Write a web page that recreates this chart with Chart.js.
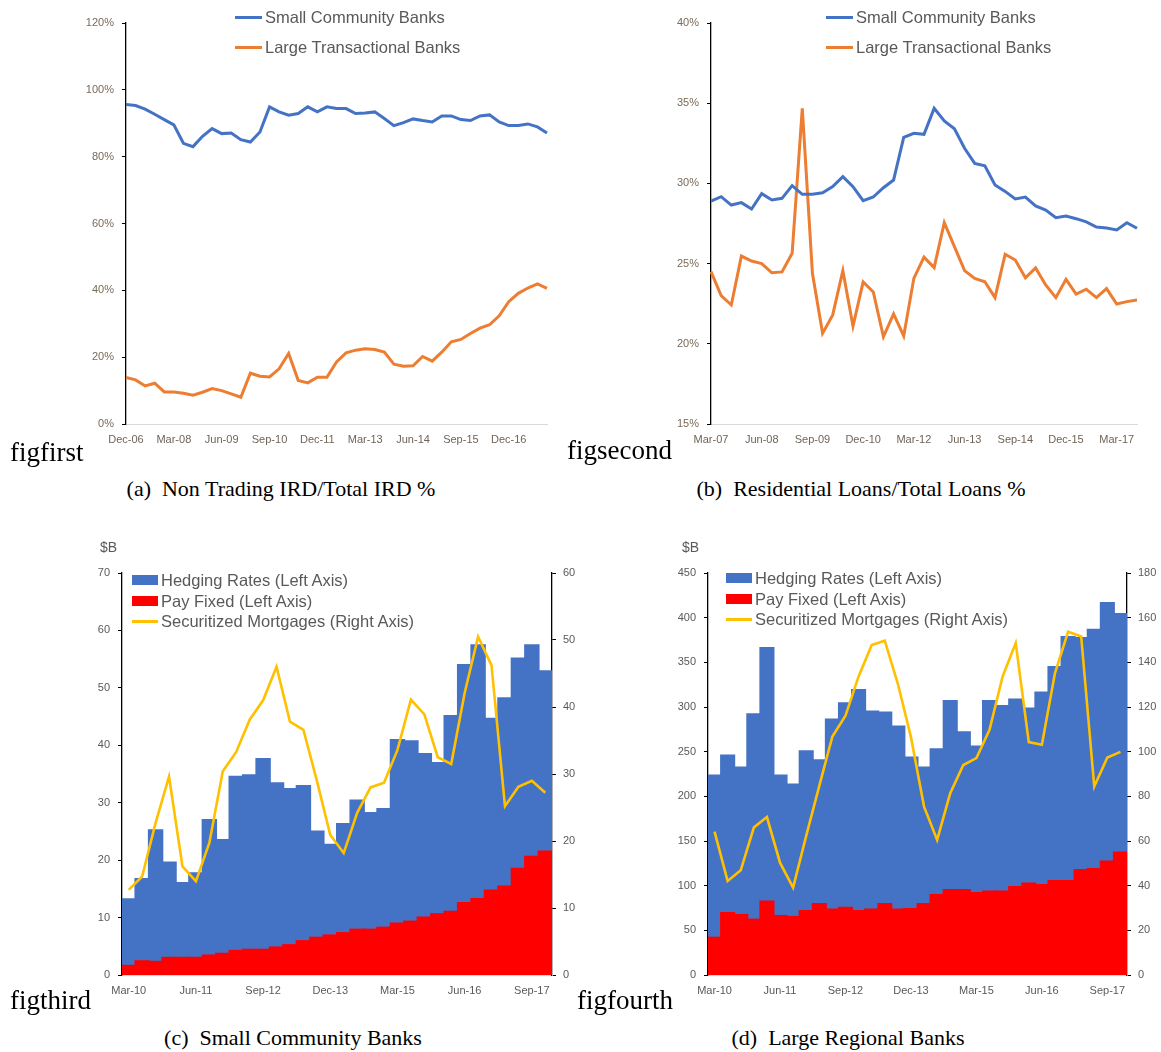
<!DOCTYPE html>
<html>
<head>
<meta charset="utf-8">
<script src="https://cdn.jsdelivr.net/npm/chart.js@4.4.1/dist/chart.umd.min.js"></script>
<style>
    body { margin: 0; background: #fff; width: 1161px; height: 1052px; position: relative; overflow: hidden; }
    .panel { position: absolute; }
    .fig { position: absolute; font-family: 'Liberation Serif', 'Times New Roman', serif; font-size: 27px; line-height: 1; color: #000; white-space: nowrap; }
    .caption { position: absolute; font-family: 'Liberation Serif', 'Times New Roman', serif; font-size: 22px; line-height: 1; color: #000; white-space: nowrap; transform: translateX(-50%); }
    .unit { position: absolute; font-family: 'Liberation Sans', sans-serif; font-size: 14px; line-height: 1; color: #595959; }
    .legend { position: absolute; font-family: 'Liberation Sans', sans-serif; font-size: 16.5px; color: #595959; }
    .legend .item { display: flex; align-items: center; white-space: nowrap; }
    .legend .swatch { display: inline-block; margin-right: 3px; }
</style>
</head>
<body>

<div class="panel" style="left:60px; top:0px;"><canvas id="chartA" width="500" height="460"></canvas></div>
<div class="panel" style="left:640px; top:0px;"><canvas id="chartB" width="520" height="460"></canvas></div>
<div class="panel" style="left:60px; top:530px;"><canvas id="chartC" width="530" height="470"></canvas></div>
<div class="panel" style="left:640px; top:530px;"><canvas id="chartD" width="520" height="470"></canvas></div>

<div class="legend" id="legendA" style="left:235px; top:2px; line-height:30px;"></div>
<div class="legend" id="legendB" style="left:826px; top:2px; line-height:30px;"></div>
<div class="legend" id="legendC" style="left:132px; top:570px; line-height:20.5px;"></div>
<div class="legend" id="legendD" style="left:726px; top:568px; line-height:20.5px;"></div>

<div class="unit" style="left:100px; top:540px;">$B</div>
<div class="unit" style="left:682px; top:540px;">$B</div>

<div class="fig" style="left:10px; top:439px;">figfirst</div>
<div class="fig" style="left:567px; top:437px;">figsecond</div>
<div class="fig" style="left:10px; top:987px;">figthird</div>
<div class="fig" style="left:577px; top:987px;">figfourth</div>

<div class="caption" style="left:281px; top:478px;">(a)&nbsp;&nbsp;Non Trading IRD/Total IRD %</div>
<div class="caption" style="left:861px; top:478px;">(b)&nbsp;&nbsp;Residential Loans/Total Loans %</div>
<div class="caption" style="left:293px; top:1027px;">(c)&nbsp;&nbsp;Small Community Banks</div>
<div class="caption" style="left:848px; top:1027px;">(d)&nbsp;&nbsp;Large Regional Banks</div>

<script>
// Datos
const quartersA = ['Dec-06',
    'Mar-07', 'Jun-07', 'Sep-07', 'Dec-07', 'Mar-08', 'Jun-08', 'Sep-08', 'Dec-08',
    'Mar-09', 'Jun-09', 'Sep-09', 'Dec-09', 'Mar-10', 'Jun-10', 'Sep-10', 'Dec-10',
    'Mar-11', 'Jun-11', 'Sep-11', 'Dec-11', 'Mar-12', 'Jun-12', 'Sep-12', 'Dec-12',
    'Mar-13', 'Jun-13', 'Sep-13', 'Dec-13', 'Mar-14', 'Jun-14', 'Sep-14', 'Dec-14',
    'Mar-15', 'Jun-15', 'Sep-15', 'Dec-15', 'Mar-16', 'Jun-16', 'Sep-16', 'Dec-16',
    'Mar-17', 'Jun-17', 'Sep-17', 'Dec-17'];
const smallIrd = [95.6, 95.3, 94.2, 92.7, 91.1, 89.5, 84.0, 83.0, 86.1, 88.4,
    86.9, 87.1, 85.1, 84.4, 87.4, 94.9, 93.4, 92.4, 92.9, 94.9,
    93.4, 94.9, 94.4, 94.4, 92.9, 93.1, 93.4, 91.4, 89.3, 90.2,
    91.3, 90.8, 90.4, 92.2, 92.2, 91.1, 90.8, 92.2, 92.5, 90.4,
    89.3, 89.3, 89.8, 88.9, 87.1];
const largeIrd = [13.9, 13.2, 11.4, 12.2, 9.6, 9.6, 9.2, 8.6, 9.5, 10.6,
    10.0, 9.0, 8.0, 15.2, 14.3, 14.1, 16.5, 21.1, 13.0, 12.3,
    14.0, 14.0, 18.6, 21.3, 22.1, 22.5, 22.3, 21.5, 17.9, 17.3,
    17.4, 20.2, 18.8, 21.5, 24.6, 25.3, 27.1, 28.7, 29.7, 32.4,
    36.6, 39.1, 40.7, 41.9, 40.6];

const quartersB = [
    'Mar-07', 'Jun-07', 'Sep-07', 'Dec-07', 'Mar-08', 'Jun-08', 'Sep-08', 'Dec-08',
    'Mar-09', 'Jun-09', 'Sep-09', 'Dec-09', 'Mar-10', 'Jun-10', 'Sep-10', 'Dec-10',
    'Mar-11', 'Jun-11', 'Sep-11', 'Dec-11', 'Mar-12', 'Jun-12', 'Sep-12', 'Dec-12',
    'Mar-13', 'Jun-13', 'Sep-13', 'Dec-13', 'Mar-14', 'Jun-14', 'Sep-14', 'Dec-14',
    'Mar-15', 'Jun-15', 'Sep-15', 'Dec-15', 'Mar-16', 'Jun-16', 'Sep-16', 'Dec-16',
    'Mar-17', 'Jun-17', 'Sep-17'];
const smallLoans = [28.9, 29.17, 28.65, 28.8, 28.4, 29.36, 28.97, 29.07, 29.86, 29.32,
    29.32, 29.42, 29.8, 30.42, 29.8, 28.92, 29.15, 29.73, 30.21, 32.87,
    33.12, 33.06, 34.68, 33.89, 33.41, 32.19, 31.25, 31.1, 29.9, 29.5,
    29.03, 29.15, 28.6, 28.34, 27.86, 27.97, 27.8, 27.6, 27.28, 27.22,
    27.1, 27.55, 27.2];
const largeLoans = [24.5, 23.0, 22.42, 25.47, 25.16, 25.0, 24.43, 24.48, 25.64, 34.68,
    24.4, 20.65, 21.8, 24.56, 21.1, 23.85, 23.23, 20.44, 21.86, 20.49,
    24.08, 25.4, 24.75, 27.55, 26.06, 24.56, 24.08, 23.87, 22.88, 25.58,
    25.22, 24.12, 24.73, 23.67, 22.88, 24.02, 23.1, 23.4, 22.88, 23.44,
    22.48, 22.63, 22.73];

const quartersCD = [
    'Mar-10', 'Jun-10', 'Sep-10', 'Dec-10', 'Mar-11', 'Jun-11', 'Sep-11', 'Dec-11',
    'Mar-12', 'Jun-12', 'Sep-12', 'Dec-12', 'Mar-13', 'Jun-13', 'Sep-13', 'Dec-13',
    'Mar-14', 'Jun-14', 'Sep-14', 'Dec-14', 'Mar-15', 'Jun-15', 'Sep-15', 'Dec-15',
    'Mar-16', 'Jun-16', 'Sep-16', 'Dec-16', 'Mar-17', 'Jun-17', 'Sep-17', 'Dec-17'];
const hedgingSmall = [13.2, 16.7, 25.2, 19.6, 16.0, 17.7, 27.0, 23.5, 34.5, 34.8,
    37.6, 33.4, 32.4, 32.9, 25.0, 22.7, 26.3, 30.4, 28.2, 28.9,
    40.9, 40.7, 38.5, 36.9, 45.1, 54.0, 57.4, 44.6, 48.2, 55.1,
    57.4, 52.9];
const payFixedSmall = [1.6, 2.4, 2.3, 3.0, 3.0, 3.0, 3.4, 3.7, 4.2, 4.4,
    4.4, 4.8, 5.2, 5.9, 6.5, 6.9, 7.3, 7.9, 7.9, 8.25,
    8.95, 9.3, 10.0, 10.6, 11.0, 12.55, 13.25, 14.7, 15.4, 18.5,
    20.6, 21.5];
const securitizedSmall = [12.7, 14.7, 22.7, 29.6, 16.2, 14.0, 19.7, 30.4, 33.3, 38.1,
    41.0, 46.0, 37.8, 36.6, 29.0, 20.9, 18.2, 24.2, 28.0, 28.7,
    33.6, 41.1, 38.9, 32.5, 31.5, 42.1, 50.5, 46.2, 25.2, 28.1,
    29.0, 27.2];

const hedgingLarge = [223.3, 245.7, 232.3, 292.0, 366.0, 223.3, 213.2, 250.6, 240.5, 286.0,
    304.3, 318.9, 295.0, 293.9, 278.2, 243.5, 232.3, 252.8, 306.6, 271.8,
    255.8, 306.6, 301.0, 308.4, 298.4, 316.3, 344.7, 378.3, 377.1, 386.5,
    416.4, 404.0];
const payFixedLarge = [41.8, 69.5, 67.2, 62.0, 82.2, 66.1, 65.0, 71.7, 79.5, 73.2,
    75.4, 71.7, 73.2, 79.5, 73.2, 73.9, 79.5, 89.6, 95.2, 95.2,
    91.9, 93.4, 93.4, 98.6, 102.3, 100.8, 105.3, 105.3, 117.6, 118.7,
    127.0, 137.0];
const securitizedLarge = [64.2, 42.1, 46.9, 66.0, 70.7, 50.3, 39.1, 62.3, 84.7, 106.8,
    116.1, 133.7, 147.7, 149.7, 130.4, 106.5, 75.4, 60.5, 81.4, 94.0,
    97.1, 109.8, 133.7, 148.6, 104.3, 103.1, 135.2, 153.7, 151.6, 84.4,
    97.4, 99.9];

const BLUE = '#4472C4';
const ORANGE = '#ED7D31';
const RED = '#FF0000';
const YELLOW = '#FFC000';
const tickFont = { family: "'Liberation Sans', Arial, sans-serif", size: 11 };

// 1. Gráficos de líneas (a) y (b)
function lineChart(id, labels, small, large, yMin, yMax, yStep, box) {
    return new Chart(document.getElementById(id), {
        type: 'line',
        data: {
            labels: labels,
            datasets: [
                { label: 'Small Community Banks', data: small, borderColor: BLUE, backgroundColor: BLUE, borderWidth: 3, pointRadius: 0 },
                { label: 'Large Transactional Banks', data: large, borderColor: ORANGE, backgroundColor: ORANGE, borderWidth: 3, pointRadius: 0 }
            ]
        },
        options: {
            responsive: false,
            animation: false,
            layout: { padding: { top: box.top, right: box.right, left: 0, bottom: 0 } },
            plugins: { legend: { display: false }, tooltip: { enabled: false } },
            scales: {
                x: {
                    offset: false,
                    grid: { display: false, drawTicks: false },
                    border: { color: '#d9d9d9', width: 1 },
                    ticks: {
                        autoSkip: false, maxRotation: 0, padding: 9, color: '#6f6457', font: tickFont,
                        callback: (v, i) => i % 5 === 0 ? labels[i] : ''
                    },
                    afterFit: s => { s.height = box.xh; }
                },
                y: {
                    min: yMin, max: yMax,
                    grid: { drawOnChartArea: false, tickLength: 4, color: '#000' },
                    border: { color: '#000', width: 1.3 },
                    ticks: { stepSize: yStep, padding: 8, color: '#7a6a58', font: tickFont, callback: v => v + '%' },
                    afterFit: s => { s.width = box.yw; }
                }
            }
        }
    });
}

// 2. Gráficos de barras + línea (c) y (d)
function barChart(id, labels, hedging, payFixed, securitized, leftMax, leftStep, rightMax, rightStep, box) {
    const barStyle = { borderWidth: 0, grouped: false, barPercentage: 1, categoryPercentage: 1, inflateAmount: 1, yAxisID: 'y' };
    return new Chart(document.getElementById(id), {
        type: 'bar',
        data: {
            labels: labels,
            datasets: [
                { ...barStyle, label: 'Hedging Rates (Left Axis)', data: hedging, backgroundColor: BLUE, order: 2 },
                { ...barStyle, label: 'Pay Fixed (Left Axis)', data: payFixed, backgroundColor: RED, order: 1 },
                { type: 'line', label: 'Securitized Mortgages (Right Axis)', data: securitized, borderColor: YELLOW, backgroundColor: YELLOW, borderWidth: 2.6, pointRadius: 0, order: 0, yAxisID: 'y1' }
            ]
        },
        options: {
            responsive: false,
            animation: false,
            layout: { padding: { top: box.top, right: 0, left: 0, bottom: 0 } },
            plugins: { legend: { display: false }, tooltip: { enabled: false } },
            scales: {
                x: {
                    grid: { display: false, drawTicks: false },
                    border: { color: '#d9d9d9', width: 1 },
                    ticks: {
                        autoSkip: false, maxRotation: 0, padding: 9, color: '#595959', font: tickFont,
                        callback: (v, i) => i % 5 === 0 ? labels[i] : ''
                    },
                    afterFit: s => { s.height = box.xh; }
                },
                y: {
                    min: 0, max: leftMax,
                    grid: { drawOnChartArea: false, tickLength: 4, color: '#000' },
                    border: { color: '#000', width: 1.3 },
                    ticks: { stepSize: leftStep, padding: 8, color: '#595959', font: tickFont },
                    afterFit: s => { s.width = box.yw; }
                },
                y1: {
                    position: 'right',
                    min: 0, max: rightMax,
                    grid: { drawOnChartArea: false, tickLength: 4, color: '#000' },
                    border: { color: '#000', width: 1.3 },
                    ticks: { stepSize: rightStep, padding: 7, color: '#595959', font: tickFont },
                    afterFit: s => { s.width = box.rw; }
                }
            }
        }
    });
}

// 3. Leyendas en HTML a partir de los datasets
function buildLegend(chart, elId, swatchW) {
    const el = document.getElementById(elId);
    chart.data.datasets.forEach(ds => {
        const isLine = (ds.type || chart.config.type) === 'line';
        const h = isLine ? 3 : 10;
        el.innerHTML += `
            <div class="item">
                <span class="swatch" style="width:${swatchW}px; height:${h}px; background:${ds.borderColor || ds.backgroundColor};"></span>
                <span>${ds.label}</span>
            </div>`;
    });
}

const chartA = lineChart('chartA', quartersA, smallIrd, largeIrd, 0, 120, 20, { top: 23, right: 13, yw: 66, xh: 36 });
const chartB = lineChart('chartB', quartersB, smallLoans, largeLoans, 15, 40, 5, { top: 23, right: 23, yw: 71, xh: 36 });
const chartC = barChart('chartC', quartersCD, hedgingSmall, payFixedSmall, securitizedSmall, 70, 10, 60, 10, { top: 43, yw: 62, rw: 38, xh: 25 });
const chartD = barChart('chartD', quartersCD, hedgingLarge, payFixedLarge, securitizedLarge, 450, 50, 180, 20, { top: 43, yw: 68, rw: 33, xh: 25 });

buildLegend(chartA, 'legendA', 27);
buildLegend(chartB, 'legendB', 27);
buildLegend(chartC, 'legendC', 26);
buildLegend(chartD, 'legendD', 26);
</script>
</body>
</html>
